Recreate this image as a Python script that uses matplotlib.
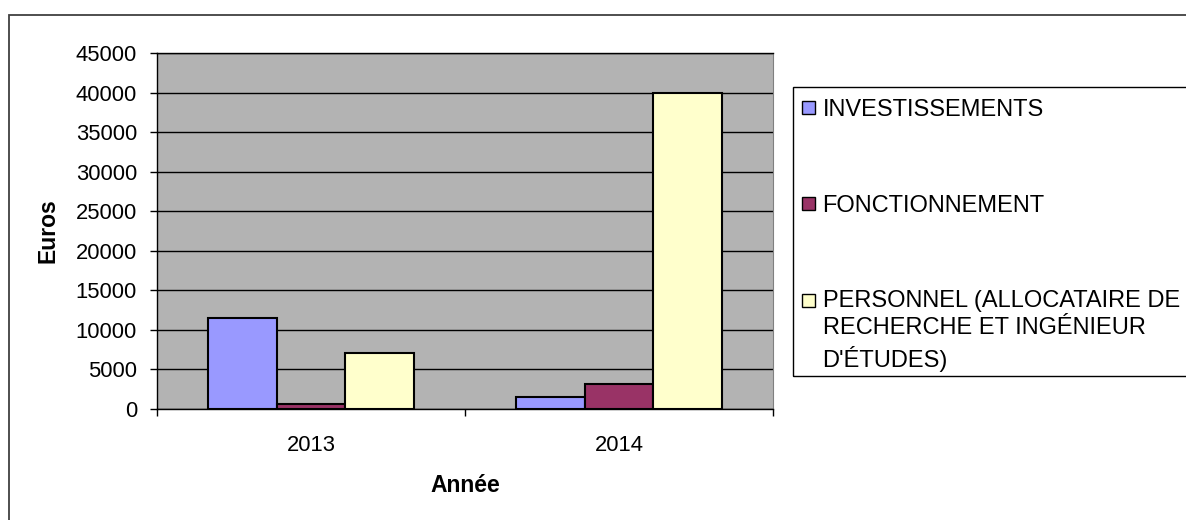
import matplotlib
matplotlib.use("Agg")
import matplotlib.pyplot as plt
import matplotlib.patches as patches
from matplotlib.legend_handler import HandlerPatch
import numpy as np

# Data (Euros per year)
years = ["2013", "2014"]
investissements = [11500, 1500]
fonctionnement = [650, 3200]
personnel = [7100, 39900]

series_labels = [
    "INVESTISSEMENTS",
    "FONCTIONNEMENT",
    "PERSONNEL (ALLOCATAIRE DE\nRECHERCHE ET INGÉNIEUR\nD'ÉTUDES)",
]
series_colors = ["#9999FF", "#993366", "#FFFFCC"]

plt.rcParams['font.family'] = ['Liberation Sans', 'DejaVu Sans']

W, H = 1186, 520
fig = plt.figure(figsize=(W / 100, H / 100), dpi=100)

# plot area in pixel units of the reference
left, right, top, bottom = 157, 773, 53, 409
ax = fig.add_axes([left / W, 1 - bottom / H, (right - left) / W, (bottom - top) / H])
ax.set_facecolor("#B3B3B3")

x = np.arange(len(years))
bar_w = 0.224
all_values = [investissements, fonctionnement, personnel]
for i, (vals, col) in enumerate(zip(all_values, series_colors)):
    ax.bar(x + (i - 1) * bar_w, vals, bar_w, color=col, edgecolor="black",
           linewidth=1.5, zorder=3)

ax.set_xlim(-0.5, 1.5)
ax.set_ylim(0, 45000)
ax.set_yticks(range(0, 45001, 5000))
ax.yaxis.grid(True, color="black", linewidth=1)
ax.set_axisbelow(True)

ax.set_xticks(x)
ax.set_xticklabels(years)
ax.set_xticks([-0.5, 0.5, 1.5], minor=True)
ax.tick_params(axis="x", which="major", length=0, pad=18.7, labelsize=15.8)
ax.tick_params(axis="x", which="minor", length=5, width=1, color="black")
ax.tick_params(axis="y", length=5, width=1, pad=9.4, labelsize=15.8)

for s in ["left", "bottom", "top"]:
    ax.spines[s].set_color("black")
    ax.spines[s].set_linewidth(1)
ax.spines["right"].set_color("#808080")

ax.set_ylabel("Euros", fontweight="bold", fontsize=16.5, ha="center", va="center")
ax.yaxis.set_label_coords(-0.177, 0.5)
ax.set_xlabel("Année", fontweight="bold", fontsize=16.5, ha="center", va="center")
ax.xaxis.set_label_coords(0.5, -0.216)

# outer chart frame
fig.patches.append(patches.Rectangle((9 / W, -0.1), 1.2, 1 - 15 / H + 0.1,
                                     transform=fig.transFigure, fill=False,
                                     edgecolor="#404040", linewidth=1.3))
# legend frame
fig.patches.append(patches.Rectangle((793 / W, 1 - 376 / H), 0.5, (376 - 87) / H,
                                     transform=fig.transFigure, fill=False,
                                     edgecolor="black", linewidth=1))


class SquareHandler(HandlerPatch):
    def __init__(self, yshift=0.0):
        super().__init__()
        self.yshift = yshift

    def create_artists(self, legend, orig_handle, xdescent, ydescent,
                       width, height, fontsize, trans):
        side = width
        y0 = -ydescent + (height - side) / 2 + self.yshift
        p = patches.Rectangle((-xdescent, y0), side, side)
        self.update_prop(p, orig_handle, legend)
        p.set_transform(trans)
        return [p]


handles = [patches.Patch(facecolor=c, edgecolor="black", linewidth=1)
           for c in series_colors]
hmap = {handles[0]: SquareHandler(), handles[1]: SquareHandler(),
        handles[2]: SquareHandler(yshift=22.0)}
leg = fig.legend(handles, series_labels, loc="upper left",
                 bbox_to_anchor=(802 / W, 1 - 99 / H), frameon=False,
                 borderpad=0, borderaxespad=0, labelspacing=3.12,
                 handlelength=0.57, handleheight=0.57, handletextpad=0.3,
                 prop={"size": 17}, handler_map=hmap)
for t in leg.get_texts():
    t.set_linespacing(1.3)

fig.savefig("out.png", dpi=100)
